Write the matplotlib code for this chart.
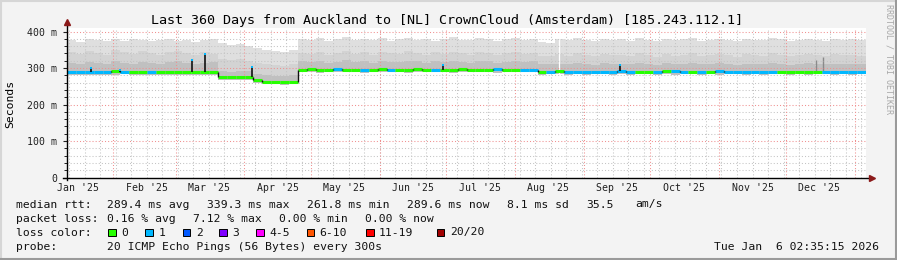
import numpy as np
import pandas as pd
import matplotlib
matplotlib.use('Agg')
import matplotlib.pyplot as plt
from matplotlib.lines import Line2D
from matplotlib.patches import Rectangle

W, H = 897, 260
MONO = 'DejaVu Sans Mono'

# time axis: 360 days ending Tue Jan 6 2026, 4 day bins
start = pd.Timestamp('2025-01-11 02:35')
n_days = 360
bin_days = 4

# median rtt per bin (ms)
median = [290, 290, 290, 290, 290, 291, 290, 290, 290, 289, 290, 290, 290, 290, 290, 290, 290,
          275, 275, 275, 275, 268, 263, 263, 262, 263,
          296, 297, 296, 296, 297, 296, 296, 295, 296, 297, 296, 296, 296, 297, 296, 295, 296,
          296, 297, 296, 296, 296, 297, 296, 296, 296, 296,
          290, 290,
          291, 290, 290, 290, 290, 290, 290, 291, 290, 290, 290, 290, 291, 293, 290, 290, 290,
          290, 292, 290, 290, 290, 290, 290, 290, 290, 290, 290, 290, 290, 290, 290, 290, 290, 289]

# lost pings per bin (of 20)
loss = [1, 1, 1, 1, 1, 0, 1, 0, 0, 1, 0, 0, 0, 0, 0, 0, 0,
        0, 0, 0, 0, 0, 0, 0, 0, 0,
        0, 0, 0, 0, 1, 0, 0, 1, 0, 0, 1, 0, 0, 0, 0, 1, 0, 0, 0, 0, 0, 0, 1, 0, 0, 1, 1,
        0, 1,
        0, 1, 1, 1, 1, 1, 1, 1, 1, 0, 0, 1, 0, 1, 1, 0, 1, 0, 1, 1, 1, 1, 1, 1, 1,
        0, 0, 0, 0, 0, 1, 1, 1, 1, 1]

# smoke: slowest ping, upper bands and fastest ping per bin (ms)
smoke_top = [378, 372, 380, 376, 374, 379, 375, 381, 377, 373, 378, 380, 374, 377, 372, 376, 379,
             368, 364, 366, 360, 355, 350, 346, 343, 349,
             381, 377, 383, 375, 379, 384, 376, 380, 378, 382, 374, 379, 383, 377, 381, 375, 380,
             384, 378, 376, 382, 379, 374, 380, 383, 377, 379,
             372, 370,
             380, 376, 382, 378, 374, 381, 377, 379, 375, 382, 378, 374, 380, 376, 379, 383, 375,
             378, 381, 377, 373, 380, 378, 376, 382, 379, 374, 377, 381, 378, 375, 380, 377, 379, 376]
smoke_mid = [344, 338, 347, 341, 336, 349, 343, 339, 346, 340, 337, 345, 348, 341, 336, 343, 339,
             326, 321, 324, 318, 315, 312, 309, 306, 311,
             342, 338, 345, 336, 341, 347, 339, 343, 337, 344, 340, 338, 346, 341, 336, 343, 339,
             345, 340, 337, 344, 341, 336, 342, 345, 338, 340,
             334, 332,
             338, 334, 341, 336, 332, 339, 335, 337, 333, 340, 336, 331, 338, 334, 337, 341, 333,
             336, 339, 335, 331, 338, 336, 334, 340, 337, 332, 335, 339, 336, 333, 338, 335, 337, 334]
smoke_in = [314, 312, 316, 313, 311, 318, 315, 312, 317, 313, 311, 316, 318, 314, 312, 315, 316,
            292, 290, 293, 291, 284, 280, 279, 278, 281,
            318, 316, 320, 315, 317, 321, 316, 319, 315, 318, 317, 316, 320, 318, 315, 319, 316,
            320, 317, 315, 319, 318, 315, 317, 320, 316, 318,
            311, 310,
            312, 310, 314, 311, 309, 313, 311, 312, 310, 314, 311, 309, 313, 311, 312, 314, 310,
            311, 313, 311, 309, 312, 311, 310, 314, 312, 309, 311, 313, 311, 310, 312, 311, 312, 310]
smoke_bot = [282, 282, 281, 281, 282, 281, 283, 281, 282, 281, 280, 282, 281, 282, 281, 280, 282,
             268, 267, 268, 267, 260, 255, 255, 254, 255,
             288, 289, 287, 288, 288, 289, 288, 287, 288, 289, 288, 288, 287, 288, 289, 288, 288,
             287, 288, 289, 288, 288, 287, 288, 288, 289, 288,
             282, 283,
             283, 282, 283, 282, 283, 283, 282, 283, 282, 283, 283, 282, 283, 282, 283, 283, 282,
             283, 282, 283, 283, 282, 283, 282, 283, 283, 282, 283, 282, 283, 283, 282, 283, 282, 283]

# short-lived spikes of the median (day offset, ms)
spike_day = [10.8, 24.0, 56.3, 62.2, 83.3, 169.5, 249.0]
spike_rtt = [299, 296, 321, 339, 302, 309, 309]
smoke_spike_day = [337.6, 340.8]
smoke_spike_top = [322, 330]
gap_day = [221.6]

loss_labels = ['0', '1', '2', '3', '4-5', '6-10', '11-19', '20/20']
loss_colors = ['#26ff00', '#00b8ff', '#0059ff', '#7e00ff', '#ff00ff', '#ff5500', '#ff0000', '#a10000']


def fx(x):
    return x / W


def fy(y):
    return 1 - y / H


fig = plt.figure(figsize=(W / 100, H / 100), dpi=100, facecolor='#f3f3f3')
ax = fig.add_axes([fx(67), fy(177.5), 799 / W, 149.2 / H])
ax.set_facecolor('white')
ax.set_xlim(0, n_days)
ax.set_ylim(0, 409)
for s in ax.spines.values():
    s.set_visible(False)

edges = np.arange(0, n_days + 1, bin_days)
def ext(a):
    return list(a) + [a[-1]]

# smoke
ax.fill_between(edges, ext(smoke_bot), ext(smoke_top), step='post', color='#dfdfdf', lw=0, zorder=1)
ax.fill_between(edges, ext(smoke_bot), ext(smoke_mid), step='post', color='#d3d3d3', lw=0, zorder=1.1)
ax.fill_between(edges, ext(smoke_bot), ext(smoke_in), step='post', color='#c0c0c0', lw=0, zorder=1.2)
ax.vlines(smoke_spike_day, [median[int(d // bin_days)] for d in smoke_spike_day], smoke_spike_top,
          color='#8a8a8a', lw=1.0, zorder=1.3)
for d in gap_day:
    ax.axvline(d, color='white', lw=0.9, zorder=1.4)

# grid
months = pd.date_range('2025-02-01', '2026-01-01', freq='MS')
month_days = [(m - start) / pd.Timedelta(days=1) for m in months]
weeks = pd.date_range(start, start + pd.Timedelta(days=n_days), freq='W-SUN')
week_days = [(w.normalize() - start) / pd.Timedelta(days=1) for w in weeks]
for d in week_days:
    ax.axvline(d, color='#c4c4c4', lw=0.75, ls=(0, (1, 2)), zorder=2)
for v in range(20, 409, 20):
    if v % 100:
        ax.axhline(v, color='#c4c4c4', lw=0.75, ls=(0, (1, 2)), zorder=2)
for v in range(100, 409, 100):
    ax.axhline(v, color='#f09090', lw=0.75, ls=(0, (1, 2)), zorder=2.1)
for d in month_days:
    ax.axvline(d, color='#f09090', lw=0.75, ls=(0, (1, 2)), zorder=2.1)

# median line coloured by loss
ax.hlines(median, edges[:-1], edges[1:], colors=[loss_colors[l] for l in loss], lw=2.2, zorder=3)
ax.vlines(edges[1:-1], median[:-1], median[1:], color='#111111', lw=1.0, zorder=3.1)
ax.vlines(spike_day, [median[int(d // bin_days)] for d in spike_day], spike_rtt,
          color='#111111', lw=1.2, zorder=3.2)
ax.scatter(spike_day, spike_rtt, marker='s', s=3, color='#00b8ff', lw=0, zorder=3.3)

# axes, ticks, arrows
ax.plot([-0.005, 1.008], [0, 0], color='black', lw=1, transform=ax.transAxes, clip_on=False, zorder=4)
ax.plot([0, 0], [-0.02, 1.035], color='black', lw=1, transform=ax.transAxes, clip_on=False, zorder=4)
ax.plot([0], [1.04], marker='^', ms=4.5, color='#8b1a1a', transform=ax.transAxes, clip_on=False, zorder=5)
ax.plot([1.008], [0], marker='>', ms=4.5, color='#8b1a1a', transform=ax.transAxes, clip_on=False, zorder=5)

ax.set_yticks([0, 100, 200, 300, 400], ['0', '100 m', '200 m', '300 m', '400 m'])
ax.set_yticks(range(20, 409, 20), minor=True)
ax.tick_params(axis='y', which='major', length=3, width=0.8, pad=4, labelsize=7.1, colors='#202020')
ax.tick_params(axis='y', which='minor', length=2, width=0.6)
label_days = [(pd.Timestamp(2025, m, 16) - start) / pd.Timedelta(days=1) for m in range(1, 13)]
label_text = [pd.Timestamp(2025, m, 1).strftime("%b '%y") for m in range(1, 13)]
ax.set_xticks(label_days, label_text)
ax.tick_params(axis='x', length=0, pad=4, labelsize=7.1, colors='#202020')
for t in ax.get_xticklabels() + ax.get_yticklabels():
    t.set_family(MONO)

# texts
fig.text(fx(447), fy(24), 'Last 360 Days from Auckland to [NL] CrownCloud (Amsterdam) [185.243.112.1]',
         ha='center', va='baseline', fontsize=9.6, family=MONO)
fig.text(fx(10), fy(104), 'Seconds', rotation=90, ha='center', va='center', fontsize=8.2, family=MONO)
fig.text(fx(889), fy(59), 'RRDTOOL / TOBI OETIKER', rotation=270, ha='center', va='center',
         fontsize=6, family=MONO, color='#a8a8a8')

lg = dict(fontsize=8.2, family=MONO, va='baseline', color='#111111')
fig.text(fx(16), fy(207.5), 'median rtt:', **lg)
for x, s in zip([107.3, 207.3, 307, 407, 507, 586, 635],
                ['289.4 ms avg', '339.3 ms max', '261.8 ms min', '289.6 ms now', '8.1 ms sd', '35.5', 'am/s']):
    fig.text(fx(x), fy(207.5), s, **lg)
fig.text(fx(16), fy(221.5), 'packet loss:', **lg)
for x, s in zip([107.3, 193.3, 279.3, 365.3],
                ['0.16 % avg', '7.12 % max', '0.00 % min', '0.00 % now']):
    fig.text(fx(x), fy(221.5), s, **lg)
fig.text(fx(16), fy(235.5), 'loss color:', **lg)
box_x = [108.3, 145.3, 182.7, 219.3, 256, 306.7, 366, 436.7]
for x, lab, c in zip(box_x, loss_labels, loss_colors):
    fig.add_artist(Rectangle((fx(x), fy(236)), 7.5 / W, 7.5 / H, transform=fig.transFigure,
                             facecolor=c, edgecolor='black', lw=0.7))
    fig.text(fx(x + 13), fy(235.5), lab, **lg)
fig.text(fx(16), fy(249.5), 'probe:', **lg)
fig.text(fx(107.3), fy(249.5), '20 ICMP Echo Pings (56 Bytes) every 300s', **lg)
fig.text(fx(879), fy(249.5), 'Tue Jan  6 02:35:15 2026', ha='right', **lg)

# frame
fig.add_artist(Line2D([0, 1], [fy(1), fy(1)], color='#d6d6d6', lw=1.5, transform=fig.transFigure))
fig.add_artist(Line2D([fx(1), fx(1)], [0, 1], color='#d6d6d6', lw=1.5, transform=fig.transFigure))
fig.add_artist(Line2D([0, 1], [fy(259), fy(259)], color='#9a9a9a', lw=1.5, transform=fig.transFigure))
fig.add_artist(Line2D([fx(896), fx(896)], [0, 1], color='#9a9a9a', lw=1.5, transform=fig.transFigure))

fig.savefig('out.png', dpi=100, facecolor=fig.get_facecolor())
